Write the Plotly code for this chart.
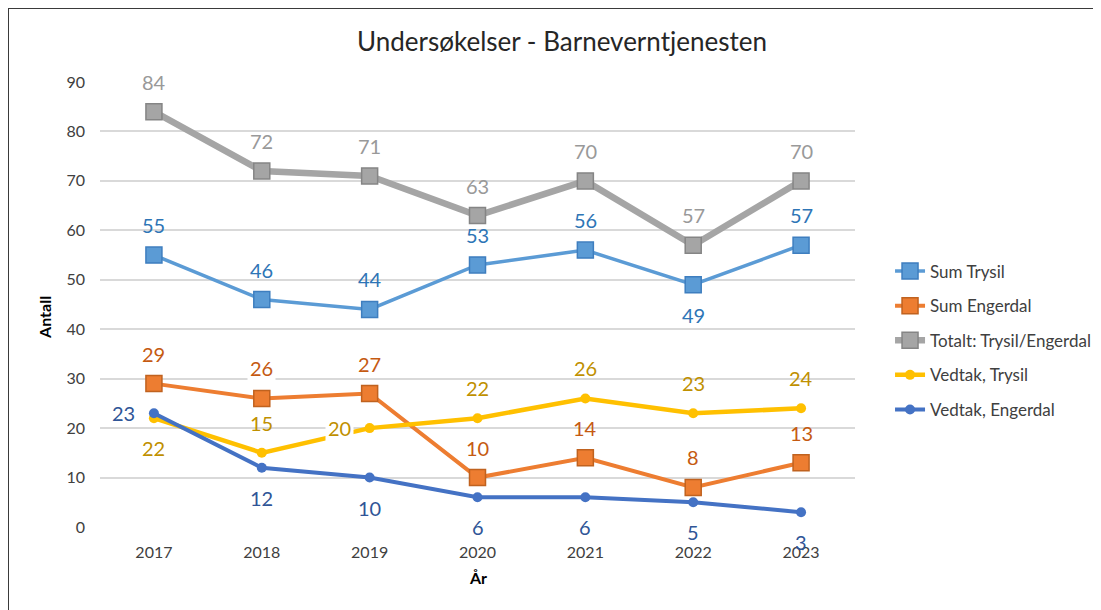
import plotly.graph_objects as go

years = ["2017", "2018", "2019", "2020", "2021", "2022", "2023"]

sum_trysil = [55, 46, 44, 53, 56, 49, 57]
sum_engerdal = [29, 26, 27, 10, 14, 8, 13]
totalt = [84, 72, 71, 63, 70, 57, 70]
vedtak_trysil = [22, 15, 20, 22, 26, 23, 24]
vedtak_engerdal = [23, 12, 10, 6, 6, 5, 3]

names = ["Sum Trysil", "Sum Engerdal", "Totalt: Trysil/Engerdal", "Vedtak, Trysil", "Vedtak, Engerdal"]
series = [sum_trysil, sum_engerdal, totalt, vedtak_trysil, vedtak_engerdal]

# label placement per point: "t" above, "b" below, "l" left
label_pos = [
    ["t", "t", "t", "t", "t", "b", "t"],
    ["t", "t", "t", "t", "t", "t", "t"],
    ["t", "t", "t", "t", "t", "t", "t"],
    ["b", "t", "l", "t", "t", "t", "t"],
    ["l", "b", "b", "b", "b", "b", "b"],
]
# labels drawn with a white fill in the original (series index, point index)
filled_labels = {(1, 1), (3, 2)}

line_colors = ["#5B9BD5", "#ED7D31", "#A5A5A5", "#FFC000", "#4472C4"]
marker_edge = ["#3E7EBF", "#C0621F", "#858585", "#FFC000", "#4472C4"]
label_colors = ["#2E75B6", "#C55A11", "#999999", "#BF9000", "#2F5597"]
symbols = ["square", "square", "square", "circle", "circle"]
msizes = [16, 16, 16, 10, 10]
lwidths = [3.5, 4, 6.5, 4.5, 4]

FONT = "Lato"

fig = go.Figure()
annotations = []
for i, (nm, vals) in enumerate(zip(names, series)):
    fig.add_trace(go.Scatter(
        x=years, y=vals, name=nm, mode="lines+markers",
        legendgroup=f"g{i}",
        line=dict(color=line_colors[i], width=lwidths[i]),
        marker=dict(symbol=symbols[i], size=msizes[i], color=line_colors[i],
                    line=dict(color=marker_edge[i], width=1.5 if symbols[i] == "square" else 0)),
    ))
    for k, (v, p) in enumerate(zip(vals, label_pos[i])):
        xs, ys = 0, 0
        if p == "t":
            ys = 30
        elif p == "b":
            ys = -30
        else:
            xs = -30
        annotations.append(dict(
            x=k, y=v, xref="x", yref="y", text=str(v), showarrow=False,
            xshift=xs, yshift=ys, xanchor="center", yanchor="middle",
            bgcolor="white" if (i, k) in filled_labels else "rgba(0,0,0,0)",
            borderpad=2,
            font=dict(family=FONT, size=20, color=label_colors[i]),
        ))

annotations.append(dict(x=-0.0728, y=0.47, xref="paper", yref="paper", text="<b>Antall</b>",
                        showarrow=False, textangle=-90, xanchor="center", yanchor="middle",
                        font=dict(family=FONT, size=16, color="#000000")))
annotations.append(dict(x=0.5, y=-0.1146, xref="paper", yref="paper", text="<b>År</b>",
                        showarrow=False, xanchor="center", yanchor="middle",
                        font=dict(family=FONT, size=16, color="#000000")))

fig.update_layout(
    width=1101, height=610,
    margin=dict(l=92, r=254, t=74, b=91),
    paper_bgcolor="white", plot_bgcolor="white",
    font=dict(family=FONT, color="#595959"),
    title=dict(text="Undersøkelser - Barneverntjenesten", x=554/1101, xref="container", xanchor="center",
               y=1 - 34/610, yref="container", yanchor="middle",
               font=dict(family=FONT, size=26, color="#262626")),
    showlegend=True,
    legend=dict(x=1.0464, y=0.6146, xanchor="left", yanchor="top", traceorder="grouped",
                tracegroupgap=9.5, font=dict(family=FONT, size=17, color="#404040"),
                bgcolor="rgba(0,0,0,0)"),
    annotations=annotations,
    xaxis=dict(type="category", range=[-0.5, 6.5], showgrid=False, zeroline=False, showline=False,
               ticks="", ticklabelstandoff=14, tickfont=dict(family=FONT, size=16, color="#404040")),
    yaxis=dict(range=[0, 90], dtick=10, showgrid=True, gridcolor="#D9D9D9", gridwidth=1.5,
               zeroline=False, showline=False, ticks="", ticklabelstandoff=14,
               tickfont=dict(family=FONT, size=16, color="#404040")),
    shapes=[dict(type="rect", xref="paper", yref="paper", x0=(0 - 92) / 755, x1=2,
                 y0=-2, y1=1 + 74 / 445, line=dict(color="#3A3A3A", width=2), layer="above")],
)

fig.write_html("out.html")
